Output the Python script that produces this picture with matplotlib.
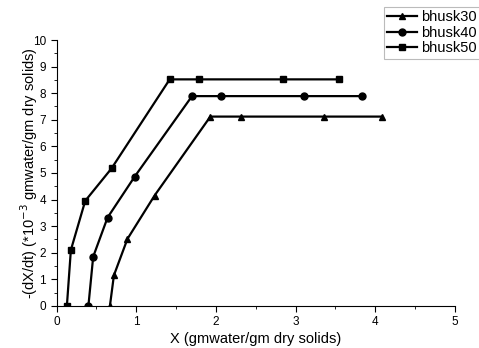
import matplotlib.pyplot as plt
from matplotlib.ticker import MultipleLocator

plt.rcParams['font.family'] = ['Liberation Sans', 'DejaVu Sans']

# bhusk30 (triangles)
x30 = [0.67, 0.72, 0.89, 1.23, 1.93, 2.32, 3.36, 4.08]
y30 = [0.0, 1.15, 2.52, 4.15, 7.12, 7.12, 7.12, 7.12]
# bhusk40 (circles)
x40 = [0.40, 0.46, 0.64, 0.98, 1.70, 2.06, 3.11, 3.83]
y40 = [0.0, 1.85, 3.32, 4.86, 7.89, 7.89, 7.89, 7.89]
# bhusk50 (squares)
x50 = [0.13, 0.18, 0.36, 0.69, 1.42, 1.79, 2.84, 3.55]
y50 = [0.0, 2.1, 3.95, 5.17, 8.52, 8.52, 8.52, 8.52]

fig = plt.figure(figsize=(4.79, 3.48), dpi=100)
ax = fig.add_axes([0.118, 0.121, 0.832, 0.764])

ax.plot(x30, y30, '-^', color='black', lw=1.6, ms=5, label='bhusk30')
ax.plot(x40, y40, '-o', color='black', lw=1.6, ms=5, label='bhusk40')
ax.plot(x50, y50, '-s', color='black', lw=1.6, ms=5, label='bhusk50')

ax.set_xlim(0, 5)
ax.set_ylim(0, 10)
ax.xaxis.set_major_locator(MultipleLocator(1))
ax.xaxis.set_minor_locator(MultipleLocator(0.5))
ax.yaxis.set_major_locator(MultipleLocator(1))
ax.yaxis.set_minor_locator(MultipleLocator(0.5))
ax.tick_params(which='major', direction='out', length=4, labelsize=8.5)
ax.tick_params(which='minor', direction='out', length=2.5)
ax.spines['top'].set_visible(False)
ax.spines['right'].set_visible(False)

ax.set_xlabel('X (gmwater/gm dry solids)', fontsize=10.5, labelpad=3)
ax.set_ylabel('-(dX/dt) (*10$^{-3}$ gmwater/gm dry solids)', fontsize=10.5,
              labelpad=-5)

leg = ax.legend(loc='upper right', bbox_to_anchor=(1.063, 1.125), fontsize=10.5,
                frameon=True, fancybox=False, handlelength=2.0,
                handletextpad=0.3, borderpad=0.25, labelspacing=0.1,
                borderaxespad=0)
leg.get_frame().set_edgecolor('#aaaaaa')
leg.get_frame().set_linewidth(0.8)

fig.savefig('out.png', dpi=100)
